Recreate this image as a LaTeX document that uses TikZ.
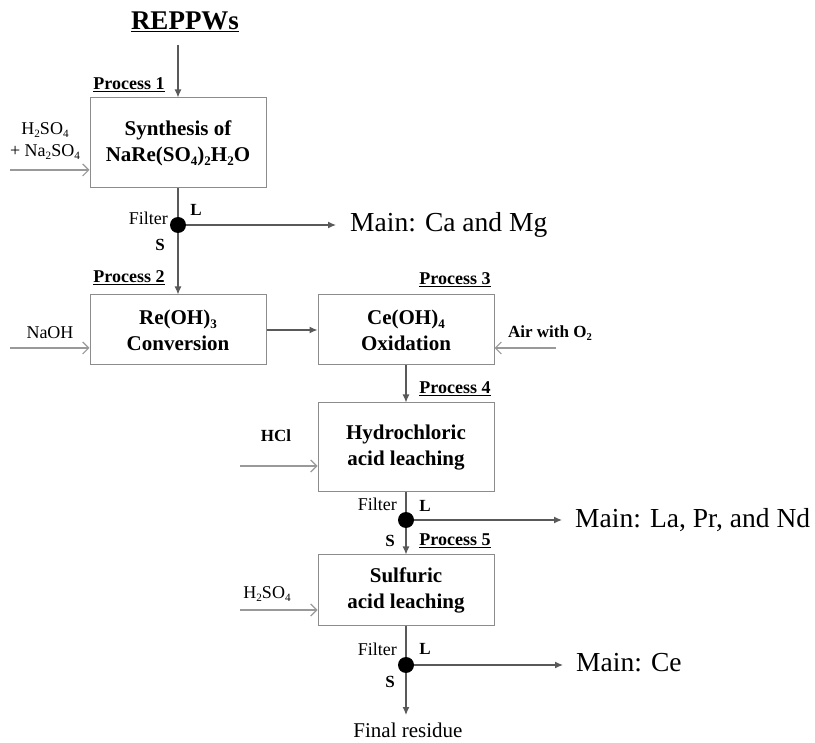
\documentclass[tikz,border=0pt]{standalone}
\usepackage{fontspec}
\usepackage{graphicx}
\setmainfont{Liberation Serif}
\usetikzlibrary{arrows.meta}
\definecolor{linegray}{gray}{0.35}
\definecolor{boxgray}{gray}{0.55}
\definecolor{feedgray}{gray}{0.6}
\newcommand{\sbs}[1]{\raisebox{-0.4ex}{\scalebox{0.62}{#1}}}
\begin{document}
\begin{tikzpicture}[x=1pt,y=-1pt,
  box/.style={draw=boxgray, line width=1pt, minimum width=176pt, align=center, inner sep=0pt,
    font=\fontsize{21}{26}\selectfont\bfseries},
  flow/.style={draw=linegray, line width=1.2pt, -{Latex[length=8pt,width=7pt]}},
  plainline/.style={draw=linegray, line width=1.2pt},
  feed/.style={draw=feedgray, line width=1.2pt, -{Straight Barb[length=6pt,width=12pt]}},
  dot/.style={circle, fill=black, inner sep=0pt, minimum size=16pt},
  proc/.style={font=\fontsize{18}{18}\selectfont\bfseries, inner sep=0pt},
  flt/.style={font=\fontsize{18}{18}\selectfont, inner sep=0pt},
  ls/.style={font=\fontsize{17}{17}\selectfont\bfseries, inner sep=0pt},
  lab/.style={font=\fontsize{18}{22}\selectfont, align=center, inner sep=0pt},
  main/.style={font=\fontsize{27.5}{27.5}\selectfont, anchor=west, inner sep=0pt}
]
\useasboundingbox (0,0) rectangle (815,743);

% title
\node[font=\fontsize{27}{27}\selectfont\bfseries, inner sep=0pt] (title) at (185,22) {\underline{REPPWs}};

% boxes
\node[box, minimum height=90pt] (b1) at (178,143) {Synthesis of\\NaRe(SO\sbs{4})\sbs{2}H\sbs{2}O};
\node[box, minimum height=70pt] (b2) at (178,330) {Re(OH)\sbs{3}\\Conversion};
\node[box, minimum height=70pt] (b3) at (406,330) {Ce(OH)\sbs{4}\\Oxidation};
\node[box, minimum height=89pt] (b4) at (406,447.5) {Hydrochloric\\acid leaching};
\node[box, minimum height=70pt] (b5) at (406,590) {Sulfuric\\acid leaching};

% process labels
\node[proc] (p1) at (129,85) {\underline{Process 1}};
\node[proc] (p2) at (129,278) {\underline{Process 2}};
\node[proc] (p3) at (455,280) {\underline{Process 3}};
\node[proc] (p4) at (455,389) {\underline{Process 4}};
\node[proc] (p5) at (455,541) {\underline{Process 5}};

% filters
\node[dot] (f1) at (178,225) {};
\node[dot] (f2) at (406,520) {};
\node[dot] (f3) at (406,665) {};

\node[flt, anchor=east] (f1t) at (168,218) {Filter};
\node[ls] (f1l) at (196,210) {L};
\node[ls] (f1s) at (160,245) {S};
\node[flt, anchor=east] (f2t) at (397,504) {Filter};
\node[ls] (f2l) at (425,506) {L};
\node[ls] (f2s) at (390,541) {S};
\node[flt, anchor=east] (f3t) at (397,649) {Filter};
\node[ls] (f3l) at (425,649) {L};
\node[ls] (f3s) at (390,682) {S};

% outputs
\coordinate (o1) at (336,225);
\coordinate (o2) at (562,520);
\coordinate (o3) at (563,665);
\node[main] (m1) at (350,225) {Main: Ca and Mg};
\node[main] (m2) at (575,520) {Main: La, Pr, and Nd};
\node[main] (m3) at (576,663) {Main: Ce};
\coordinate (res) at (406,715);
\node[font=\fontsize{21}{21}\selectfont, inner sep=0pt] (fr) at (408,730) {Final residue};

% feeds
\node[lab] (l1) at (45,141) {H\sbs{2}SO\sbs{4}\\+ Na\sbs{2}SO\sbs{4}};
\coordinate (s1) at (10,170);
\node[lab] (l2) at (50,333) {NaOH};
\coordinate (s2) at (10,348);
\node[lab, font=\fontsize{17}{17}\selectfont\bfseries] (l3) at (550,333) {Air with O\sbs{2}};
\coordinate (s3) at (556,348);
\node[lab, font=\fontsize{17}{17}\selectfont\bfseries] (l4) at (276,436) {HCl};
\coordinate (s4) at (240,466);
\node[lab] (l5) at (267,594) {H\sbs{2}SO\sbs{4}};
\coordinate (s5) at (240,610);

% main flow
\draw[flow] (178,45) -- (b1.north);
\draw[plainline] (b1.south) -- (f1);
\draw[flow] (f1) -- (b2.north);
\draw[flow] (f1) -- (o1);
\draw[flow] (b2.east) -- (b3.west);
\draw[flow] (b3.south) -- (b4.north);
\draw[plainline] (b4.south) -- (f2);
\draw[flow] (f2) -- (b5.north);
\draw[flow] (f2) -- (o2);
\draw[plainline] (b5.south) -- (f3);
\draw[flow] (f3) -- (o3);
\draw[flow] (f3) -- (res);

% feed arrows
\draw[feed] (s1) -- (s1 -| b1.west);
\draw[feed] (s2) -- (s2 -| b2.west);
\draw[feed] (s3) -- (s3 -| b3.east);
\draw[feed] (s4) -- (s4 -| b4.west);
\draw[feed] (s5) -- (s5 -| b5.west);
\end{tikzpicture}
\end{document}
